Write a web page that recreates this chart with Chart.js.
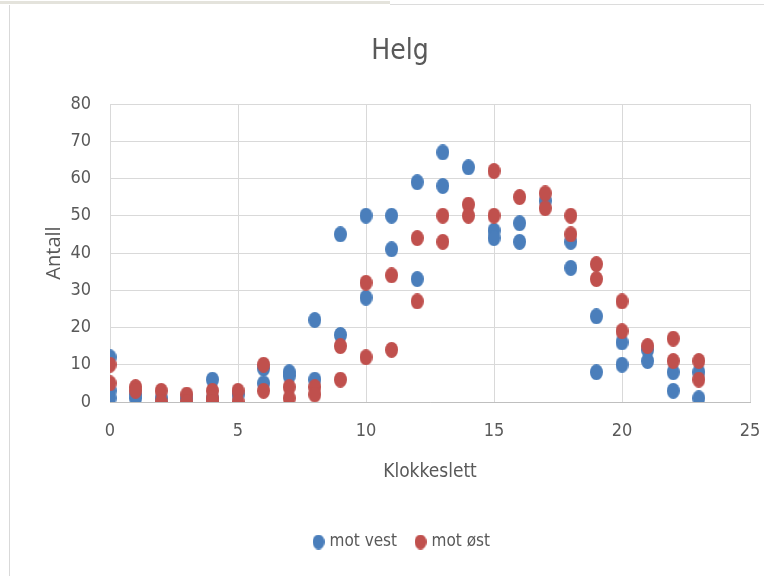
<!DOCTYPE html>
<html>
<head>
<meta charset="utf-8">
<script src="https://cdn.jsdelivr.net/npm/chart.js@4.4.1/dist/chart.umd.min.js"></script>
<style>
  html, body { margin: 0; padding: 0; background: #ffffff; }
  #wrap { position: relative; width: 764px; height: 576px; overflow: hidden; }
  .topband { position: absolute; left: 0; top: 1px; width: 390px; height: 3px; background: #e4e3dc; }
  .topline { position: absolute; left: 390px; top: 4px; width: 374px; height: 1px; background: #dcdcdc; }
  .leftline { position: absolute; left: 9px; top: 5px; width: 1px; height: 571px; background: #d9d9d9; }
  canvas { position: absolute; left: 0; top: 0; }
</style>
</head>
<body>
<div id="wrap">
  <div class="topband"></div>
  <div class="topline"></div>
  <div class="leftline"></div>
  <canvas id="c" width="764" height="576"></canvas>
</div>
<script>
// Helg: antall passeringer per klokketime, to retninger
const vestTimer  = [0,0,0,1,1,2,3,4,4,5,6,6,7,7,8,8,9,9,10,10,11,11,12,12,13,13,14,15,15,16,16,17,18,18,19,19,20,20,21,21,22,22,23,23];
const vestAntall = [12,3,1,1,2,1,1,6,1,2,9,5,8,7,22,6,45,18,50,28,50,41,59,33,67,58,63,46,44,48,43,54,43,36,23,8,16,10,14,11,8,3,8,1];

const ostTimer  = [0,0,1,1,2,2,3,3,4,4,4,5,5,6,6,7,7,8,8,9,9,10,10,11,11,12,12,13,13,14,14,15,15,16,17,17,18,18,19,19,20,20,21,22,22,23,23];
const ostAntall = [10,5,4,3,3,0,2,0,3,1,0,3,0,10,3,4,1,4,2,15,6,32,12,34,14,44,27,50,43,53,50,62,50,55,56,52,50,45,37,33,27,19,15,17,11,11,6];

const xTicks = [0, 5, 10, 15, 20, 25];
const yTicks = [0, 10, 20, 30, 40, 50, 60, 70, 80];

const seriesNames = ['mot vest', 'mot øst'];
const seriesColors = ['#4a7ebb', '#c0504d'];

// Oval markers (slightly taller than wide)
function ovalMarker(color, w, h) {
  const cv = document.createElement('canvas');
  cv.width = w; cv.height = h;
  const g = cv.getContext('2d');
  g.fillStyle = color;
  g.beginPath();
  g.ellipse(w / 2, h / 2, w / 2, h / 2, 0, 0, Math.PI * 2);
  g.fill();
  return cv;
}

function toPoints(xs, ys) {
  return xs.map((x, i) => ({ x: x, y: ys[i] }));
}

const narrow = '"Liberation Sans Narrow", "DejaVu Sans Condensed", "Roboto Condensed", sans-serif';
const grey = '#595959';
Chart.defaults.font.family = narrow;
Chart.defaults.color = grey;

const plotLeft = 110;

// The title and legend sit centred on the whole chart object, which
// extends further right than the canvas; recentre them horizontally.
const recentre = {
  id: 'recentre',
  afterLayout(chart) {
    const place = (box, centre) => {
      if (!box) return;
      const half = (box.right - box.left) / 2;
      box.left = centre - half;
      box.right = centre + half;
    };
    place(chart.titleBlock, 400);
    place(chart.legend, 403);
  }
};

new Chart(document.getElementById('c'), {
  type: 'scatter',
  plugins: [recentre],
  data: {
    datasets: [
      {
        label: seriesNames[0],
        data: toPoints(vestTimer, vestAntall),
        pointStyle: ovalMarker(seriesColors[0], 13, 16),
        backgroundColor: seriesColors[0],
        borderColor: seriesColors[0],
        order: 2
      },
      {
        label: seriesNames[1],
        data: toPoints(ostTimer, ostAntall),
        pointStyle: ovalMarker(seriesColors[1], 13, 16),
        backgroundColor: seriesColors[1],
        borderColor: seriesColors[1],
        order: 1
      }
    ]
  },
  options: {
    responsive: false,
    animation: false,
    devicePixelRatio: 1,
    layout: { padding: { left: 10, right: 14, top: 0, bottom: 15.5 } },
    plugins: {
      title: {
        display: true,
        text: 'Helg',
        color: grey,
        font: { family: narrow, size: 28, weight: 'normal' },
        padding: { top: 35, bottom: 35.4 }
      },
      legend: {
        position: 'bottom',
        labels: {
          usePointStyle: true,
          boxWidth: 5,
          boxHeight: 5,
          color: grey,
          font: { family: narrow, size: 17 },
          padding: 21,
          generateLabels: (chart) => chart.data.datasets.map((ds, i) => ({
            text: ds.label,
            fillStyle: seriesColors[i],
            strokeStyle: seriesColors[i],
            lineWidth: 0,
            pointStyle: ovalMarker(seriesColors[i], 12, 15),
            datasetIndex: i,
            hidden: false,
            fontColor: grey
          }))
        }
      },
      tooltip: { enabled: false }
    },
    scales: {
      x: {
        type: 'linear',
        min: 0,
        max: 25,
        afterBuildTicks: (s) => { s.ticks = xTicks.map(v => ({ value: v })); },
        afterFit: (s) => { s.height = 110.5; s.paddingLeft = 0; s.paddingRight = 0; },
        grid: { color: '#d9d9d9', drawTicks: false, lineWidth: 1 },
        border: { color: '#bfbfbf', width: 1 },
        ticks: { padding: 19, color: grey, font: { family: narrow, size: 18 } },
        title: {
          display: true,
          text: 'Klokkeslett',
          color: grey,
          font: { family: narrow, size: 19 },
          padding: { top: 0, bottom: 29.1 }
        }
      },
      y: {
        type: 'linear',
        min: 0,
        max: 80,
        afterBuildTicks: (s) => { s.ticks = yTicks.map(v => ({ value: v })); },
        afterFit: (s) => { s.width = plotLeft - 10; },
        grid: { color: '#d9d9d9', drawTicks: false, lineWidth: 1 },
        border: { display: false },
        ticks: { padding: 19, color: grey, font: { family: narrow, size: 18 } },
        title: {
          display: true,
          text: 'Antall',
          color: grey,
          font: { family: '"Open Sans", sans-serif', size: 20 },
          padding: { top: 32, bottom: 0 }
        }
      }
    }
  }
});
</script>
</body>
</html>
